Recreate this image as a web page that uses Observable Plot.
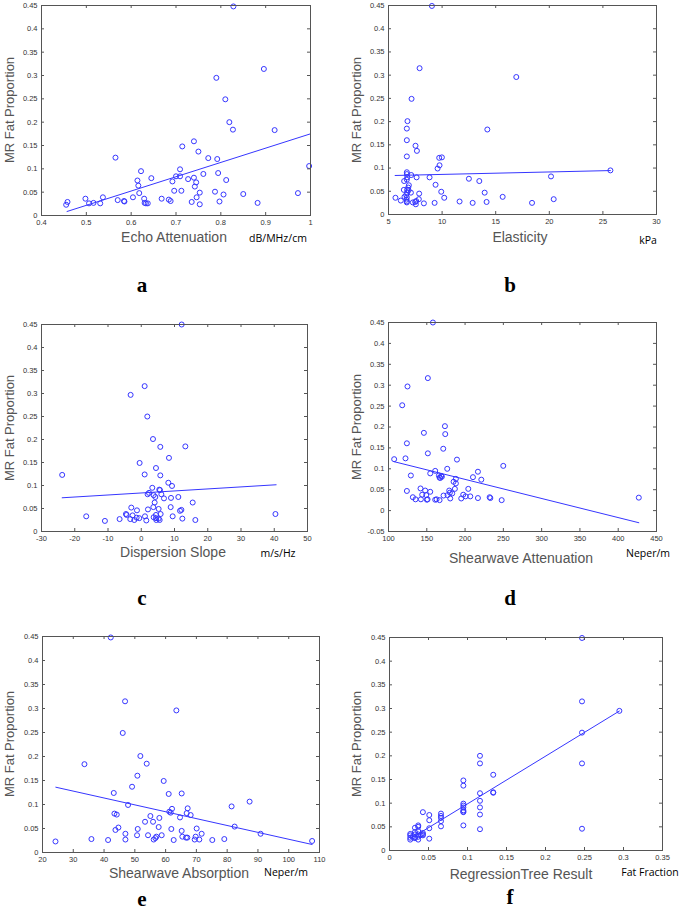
<!DOCTYPE html>
<html><head><meta charset="utf-8">
<script src="https://cdn.jsdelivr.net/npm/d3@7"></script>
<script src="https://cdn.jsdelivr.net/npm/@observablehq/plot@0.6"></script>
<style>
body{margin:0;background:#fff}
#fig{position:relative;width:685px;height:910px;overflow:hidden;font-family:"Liberation Sans",Arial,sans-serif}
.lab{position:absolute;white-space:nowrap;transform:translate(-50%,-50%);line-height:1}
.xl{font-size:14px;color:#555}
.unit{font-family:"Open Sans",sans-serif;font-size:10.5px;color:#000}
.yl{font-size:13px;color:#555;transform:translate(-50%,-50%) rotate(-90deg)}
.let{font-family:"Liberation Serif","Times New Roman",serif;font-weight:bold;font-size:21px;color:#000}
svg{position:absolute}
</style></head><body><div id="fig"></div>
<script>
// ---------- DATA ----------
const fatTicks = [0, 0.05, 0.1, 0.15, 0.2, 0.25, 0.3, 0.35, 0.4, 0.45];
const fatTicksD = [-0.05, 0, 0.05, 0.1, 0.15, 0.2, 0.25, 0.3, 0.35, 0.4, 0.45];

const echoTicks = [0.4, 0.5, 0.6, 0.7, 0.8, 0.9, 1];
const echoPoints = [[0.828,0.448],[0.790,0.295],[0.896,0.314],[0.810,0.249],[0.819,0.200],[0.827,0.184],[0.920,0.183],[0.740,0.159],[0.714,0.148],[0.750,0.137],[0.565,0.124],[0.772,0.123],[0.792,0.121],[0.997,0.106],[0.709,0.099],[0.622,0.095],[0.794,0.091],[0.761,0.089],[0.700,0.084],[0.709,0.084],[0.645,0.080],[0.740,0.081],[0.727,0.078],[0.812,0.076],[0.614,0.075],[0.692,0.073],[0.745,0.071],[0.616,0.064],[0.742,0.062],[0.696,0.053],[0.712,0.053],[0.787,0.051],[0.618,0.048],[0.753,0.049],[0.806,0.045],[0.850,0.046],[0.972,0.048],[0.537,0.039],[0.604,0.039],[0.746,0.039],[0.498,0.036],[0.629,0.036],[0.668,0.036],[0.570,0.033],[0.684,0.034],[0.584,0.031],[0.585,0.030],[0.688,0.031],[0.458,0.029],[0.516,0.027],[0.531,0.026],[0.735,0.029],[0.797,0.030],[0.882,0.027],[0.455,0.023],[0.506,0.026],[0.630,0.027],[0.633,0.026],[0.637,0.026],[0.753,0.024]];
const echoLine = [[0.457,0.0086],[1.0,0.175]];

const elastTicks = [5, 10, 15, 20, 25, 30];
const elastPoints = [[9.05,0.449],[7.90,0.315],[16.92,0.296],[7.15,0.249],[6.77,0.201],[6.71,0.185],[14.22,0.183],[6.71,0.160],[7.52,0.148],[7.65,0.137],[6.71,0.125],[9.73,0.122],[9.98,0.123],[9.76,0.106],[9.58,0.099],[25.70,0.095],[6.71,0.091],[6.71,0.087],[7.12,0.085],[6.74,0.080],[7.62,0.080],[8.83,0.080],[20.16,0.082],[12.50,0.077],[6.71,0.075],[6.46,0.072],[13.47,0.072],[6.90,0.063],[9.39,0.064],[6.43,0.053],[6.74,0.053],[6.87,0.052],[7.09,0.047],[9.92,0.049],[13.97,0.047],[7.86,0.045],[6.49,0.038],[6.71,0.037],[5.65,0.036],[10.20,0.036],[15.65,0.038],[7.83,0.033],[20.41,0.033],[6.15,0.030],[6.68,0.032],[7.58,0.029],[6.71,0.028],[7.27,0.026],[7.49,0.027],[11.63,0.028],[14.15,0.027],[6.71,0.026],[8.30,0.024],[9.30,0.025],[12.85,0.025],[18.39,0.025],[7.55,0.022],[6.74,0.047],[6.65,0.042],[6.84,0.058]];
const elastLine = [[5.62,0.084],[25.7,0.0946]];

const dispTicks = [-30, -20, -10, 0, 10, 20, 30, 40, 50];
const dispPoints = [[12.16,0.450],[1.02,0.316],[-3.20,0.297],[1.82,0.250],[3.53,0.201],[5.73,0.184],[13.26,0.185],[8.34,0.160],[-0.49,0.149],[4.43,0.138],[-23.78,0.123],[1.02,0.124],[5.73,0.122],[8.14,0.106],[9.25,0.099],[3.32,0.095],[5.43,0.091],[5.63,0.090],[2.32,0.084],[1.92,0.081],[3.73,0.079],[6.04,0.081],[4.23,0.075],[11.15,0.075],[6.84,0.072],[8.95,0.073],[4.03,0.063],[15.47,0.063],[-3.00,0.052],[3.63,0.053],[8.85,0.053],[2.02,0.048],[5.23,0.049],[-1.29,0.046],[11.66,0.045],[12.06,0.047],[-4.60,0.038],[-4.40,0.036],[40.36,0.038],[-2.60,0.035],[5.83,0.038],[4.43,0.036],[-16.55,0.033],[1.12,0.033],[3.73,0.031],[9.45,0.033],[-1.39,0.030],[-0.59,0.029],[-6.51,0.027],[-3.30,0.027],[-2.10,0.025],[12.36,0.028],[4.53,0.025],[5.23,0.028],[5.53,0.025],[16.27,0.025],[-10.93,0.023],[1.52,0.024],[4.43,0.029]];
const dispLine = [[-23.78,0.0733],[40.56,0.1016]];

const shearAttTicks = [100, 150, 200, 250, 300, 350, 400, 450];
const shearAttPoints = [[158.0,0.450],[151.4,0.317],[124.8,0.297],[117.9,0.252],[173.7,0.202],[174.1,0.183],[146.2,0.186],[124.0,0.161],[171.5,0.148],[151.4,0.137],[107.4,0.123],[122.2,0.125],[189.4,0.122],[249.9,0.107],[176.7,0.100],[161.0,0.095],[154.5,0.089],[216.8,0.093],[129.2,0.084],[165.8,0.084],[168.9,0.083],[169.7,0.081],[210.3,0.080],[166.7,0.079],[167.6,0.078],[221.2,0.074],[188.0,0.076],[188.0,0.065],[185.0,0.069],[141.8,0.053],[204.2,0.052],[186.7,0.052],[124.0,0.047],[147.9,0.048],[154.5,0.045],[179.3,0.048],[180.2,0.043],[144.0,0.038],[149.3,0.037],[183.2,0.041],[197.6,0.038],[171.9,0.036],[177.1,0.037],[131.8,0.032],[200.7,0.034],[206.8,0.034],[232.1,0.032],[233.0,0.030],[216.8,0.030],[426.9,0.031],[195.0,0.029],[180.6,0.029],[135.3,0.027],[142.3,0.027],[151.0,0.027],[161.0,0.026],[162.8,0.027],[166.7,0.025],[247.8,0.025],[150.1,0.026]];
const shearAttLine = [[107.4,0.117],[426.9,-0.029]];

const shearAbsTicks = [20, 30, 40, 50, 60, 70, 80, 90, 100, 110];
const shearAbsPoints = [[42.18,0.448],[46.83,0.315],[63.49,0.296],[46.07,0.249],[51.80,0.201],[33.63,0.184],[53.86,0.185],[50.83,0.160],[59.38,0.149],[49.10,0.137],[43.15,0.124],[61.00,0.122],[65.22,0.123],[87.29,0.106],[47.80,0.099],[81.44,0.096],[62.08,0.091],[67.17,0.092],[61.21,0.085],[61.65,0.083],[43.37,0.081],[44.12,0.079],[66.84,0.082],[68.14,0.078],[55.05,0.076],[57.97,0.072],[64.68,0.073],[53.32,0.064],[55.92,0.064],[82.42,0.054],[57.75,0.053],[44.66,0.052],[50.94,0.049],[61.86,0.049],[70.09,0.050],[43.70,0.047],[65.22,0.045],[46.94,0.039],[71.71,0.039],[90.86,0.039],[50.72,0.036],[54.29,0.036],[58.73,0.036],[65.44,0.033],[56.99,0.033],[66.62,0.031],[67.06,0.031],[69.76,0.033],[35.90,0.028],[56.67,0.030],[79.07,0.028],[46.94,0.027],[56.13,0.027],[69.44,0.027],[70.95,0.027],[41.31,0.026],[62.62,0.026],[75.17,0.026],[24.22,0.023],[107.6,0.024]];
const shearAbsLine = [[24.33,0.136],[107.6,0.0167]];

const treeTicks = [0, 0.05, 0.1, 0.15, 0.2, 0.25, 0.3, 0.35];
const treePoints = [[0.2468,0.449],[0.2468,0.315],[0.2468,0.249],[0.2468,0.184],[0.2468,0.046],[0.2947,0.295],[0.116,0.200],[0.116,0.184],[0.116,0.121],[0.116,0.105],[0.116,0.091],[0.116,0.076],[0.116,0.045],[0.133,0.160],[0.133,0.123],[0.133,0.122],[0.0947,0.148],[0.0947,0.137],[0.0947,0.099],[0.0947,0.095],[0.0947,0.091],[0.0947,0.085],[0.0947,0.082],[0.0947,0.081],[0.0947,0.053],[0.066,0.078],[0.066,0.073],[0.066,0.069],[0.066,0.062],[0.066,0.051],[0.051,0.075],[0.051,0.064],[0.051,0.047],[0.051,0.025],[0.0428,0.081],[0.0428,0.037],[0.0428,0.034],[0.0428,0.032],[0.0368,0.053],[0.0368,0.050],[0.0368,0.041],[0.0368,0.034],[0.0368,0.029],[0.0368,0.023],[0.0326,0.048],[0.0326,0.039],[0.0326,0.034],[0.0326,0.028],[0.0326,0.026],[0.0266,0.035],[0.0266,0.032],[0.0266,0.027],[0.0266,0.023],[0.040,0.033],[0.030,0.030]];
const treeLine = [[0.0266,0.0246],[0.2947,0.2946]];

const yLabel = "MR Fat Proportion";
const panels = [
  {letter:"a", pts:echoPoints, line:echoLine, xTicks:echoTicks, yTicks:fatTicks, xLabel:"Echo Attenuation", unit:"dB/MHz/cm"},
  {letter:"b", pts:elastPoints, line:elastLine, xTicks:elastTicks, yTicks:fatTicks, xLabel:"Elasticity", unit:"kPa"},
  {letter:"c", pts:dispPoints, line:dispLine, xTicks:dispTicks, yTicks:fatTicks, xLabel:"Dispersion Slope", unit:"m/s/Hz"},
  {letter:"d", pts:shearAttPoints, line:shearAttLine, xTicks:shearAttTicks, yTicks:fatTicksD, xLabel:"Shearwave Attenuation", unit:"Neper/m"},
  {letter:"e", pts:shearAbsPoints, line:shearAbsLine, xTicks:shearAbsTicks, yTicks:fatTicks, xLabel:"Shearwave Absorption", unit:"Neper/m"},
  {letter:"f", pts:treePoints, line:treeLine, xTicks:treeTicks, yTicks:fatTicks, xLabel:"RegressionTree Result", unit:"Fat Fraction"}
];

// ---------- LAYOUT ----------
const layout = [
  {l:41, r:310, t:5, b:215, xl:[174,237], un:[278,238], le:[142,285], yl:9},
  {l:388, r:656, t:5, b:214, xl:[520,237], un:[648,240], le:[510,285], yl:356},
  {l:41, r:307, t:324, b:531, xl:[173,552], un:[278,553], le:[142,598], yl:9},
  {l:388, r:656, t:322, b:531, xl:[521,558], un:[648,553], le:[510,598], yl:356},
  {l:42, r:319, t:636, b:852, xl:[179,873], un:[286,872], le:[142,899], yl:9},
  {l:389, r:662, t:637, b:850, xl:[521,874], un:[650,872], le:[510,897], yl:356}
];

const blue = "#3636ff";
const ink = "#555";
const fig = document.getElementById("fig");
const fmt = d => String(d);

function addLabel(cls, text, x, y) {
  const el = document.createElement("div");
  el.className = "lab " + cls;
  el.textContent = text;
  el.style.left = x + "px";
  el.style.top = y + "px";
  fig.appendChild(el);
}

panels.forEach((p, i) => {
  const L = layout[i];
  const ml = 45, mt = 10, mr = 30, mb = 30;
  const iw = L.r - L.l, ih = L.b - L.t, tl = 3;
  const svg = Plot.plot({
    width: iw + ml + mr, height: ih + mt + mb,
    marginLeft: ml, marginRight: mr, marginTop: mt, marginBottom: mb,
    style: {overflow: "visible", fontFamily: "'Liberation Sans', Arial, sans-serif", fontSize: "7.5px", color: "#333", background: "transparent"},
    x: {domain: [p.xTicks[0], p.xTicks[p.xTicks.length - 1]]},
    y: {domain: [p.yTicks[0], p.yTicks[p.yTicks.length - 1]]},
    marks: [
      Plot.line(p.line, {x: d => d[0], y: d => d[1], stroke: blue, strokeWidth: 1}),
      Plot.dot(p.pts, {x: d => d[0], y: d => d[1], r: 2.5, stroke: blue, strokeWidth: 1, fill: "none"}),
      Plot.tickX(p.xTicks, {x: d => d, insetTop: ih - tl, stroke: ink}),
      Plot.tickX(p.xTicks, {x: d => d, insetBottom: ih - tl, stroke: ink}),
      Plot.tickY(p.yTicks, {y: d => d, insetRight: iw - tl, stroke: ink}),
      Plot.tickY(p.yTicks, {y: d => d, insetLeft: iw - tl, stroke: ink}),
      Plot.axisX(p.xTicks, {tickSize: 0, tickPadding: 4, tickFormat: fmt, label: null, fill: "#333"}),
      Plot.axisY(p.yTicks, {tickSize: 0, tickPadding: 4, tickFormat: fmt, label: null, fill: "#333"}),
      Plot.frame({stroke: ink, strokeWidth: 1})
    ]
  });
  svg.style.left = (L.l - ml) + "px";
  svg.style.top = (L.t - mt) + "px";
  fig.appendChild(svg);
  addLabel("yl", yLabel, L.yl, (L.t + L.b) / 2);
  addLabel("xl", p.xLabel, L.xl[0], L.xl[1]);
  addLabel("unit", p.unit, L.un[0], L.un[1]);
  addLabel("let", p.letter, L.le[0], L.le[1]);
});
</script>
</body></html>
